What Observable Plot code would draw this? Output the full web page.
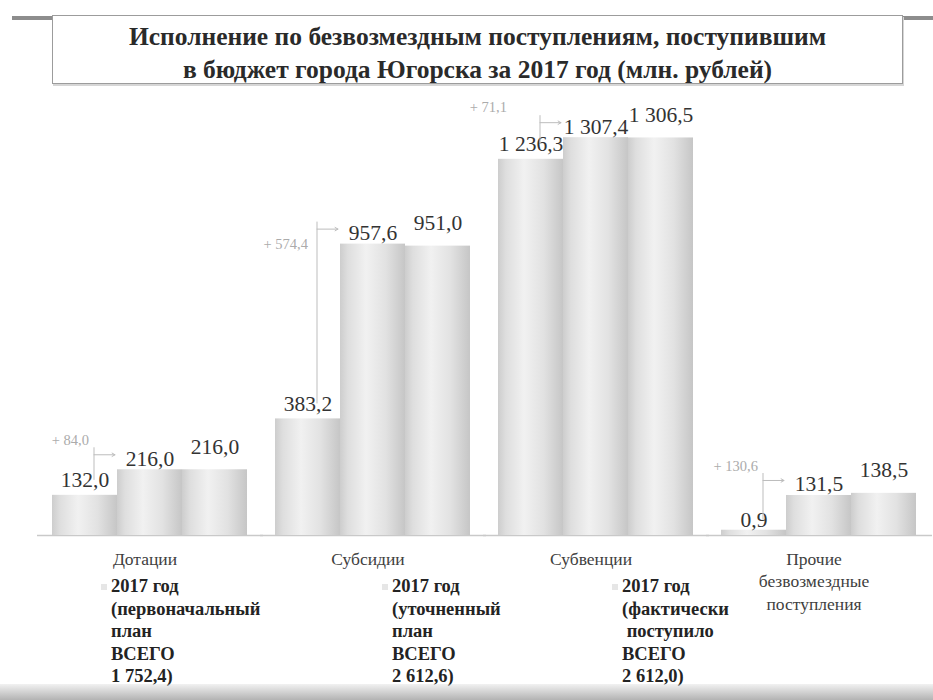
<!DOCTYPE html>
<html>
<head>
<meta charset="utf-8">
<script src="https://cdn.jsdelivr.net/npm/d3@7"></script>
<script src="https://cdn.jsdelivr.net/npm/@observablehq/plot@0.6"></script>
<style>
  html, body { margin: 0; padding: 0; background: #fff; }
  body { width: 933px; height: 700px; position: relative; overflow: hidden; font-family: "Liberation Serif", "Times New Roman", Tinos, "DejaVu Serif", Times, serif; }
  #titlebox { position: absolute; left: 52px; top: 15px; width: 849px; height: 67px; border: 1px solid #9c9c9c; box-shadow: 1px 2px 0 #d6d6d6; text-align: center; }
  #titlebox div { font-weight: bold; font-size: 25.5px; line-height: 33px; color: #2a2a2a; }
  #title1 { margin-top: 4px; }
  .deco { position: absolute; height: 4px; background: #8d8d8d; top: 16px; }
  #chart { position: absolute; left: 0; top: 90px; }
  #chart text { font-family: "Liberation Serif", "Times New Roman", Tinos, "DejaVu Serif", Times, serif; }
  .leg { position: absolute; top: 575px; font-weight: bold; font-size: 18.5px; line-height: 22.6px; color: #232323; white-space: pre; }
  .sw { position: absolute; width: 6px; height: 6px; background: #e6e6e6; left: -10px; top: 9px; }
  #bottomband { position: absolute; left: 0; right: 0; bottom: 0; height: 16px; background: linear-gradient(to bottom, rgba(210,210,210,0.3), #b3b3b3); }
</style>
</head>
<body>
<div class="deco" style="left:12px;width:40px"></div>
<div class="deco" style="left:903px;width:30px"></div>
<div id="titlebox">
  <div id="title1">Исполнение по безвозмездным поступлениям, поступившим</div>
  <div id="title2">в бюджет города Югорска за 2017 год (млн. рублей)</div>
</div>
<div id="chart"></div>
<div id="legend"></div>
<div id="bottomband"></div>
<script>
// ---- data ----
const categories = ["Дотации", "Субсидии", "Субвенции", "Прочие"];
const categoryLabels = ["Дотации", "Субсидии", "Субвенции", "Прочие\nбезвозмездные\nпоступления"];
const seriesKeys = ["initial", "revised", "actual"];
const planInitial = [132.0, 383.2, 1236.3, 0.9];
const planRevised = [216.0, 957.6, 1307.4, 131.5];
const actualReceived = [216.0, 951.0, 1306.5, 138.5];
const legendLabels = [
  "2017 год\n(первоначальный\nплан\nВСЕГО\n1 752,4)",
  "2017 год\n(уточненный\nплан\nВСЕГО\n2 612,6)",
  "2017 год\n(фактически\n поступило\nВСЕГО\n2 612,0)"
];

// ---- build table ----
const seriesValues = [planInitial, planRevised, actualReceived];
const rows = [];
categories.forEach((c, i) => seriesKeys.forEach((s, j) => rows.push({cat: c, series: s, value: seriesValues[j][i]})));
const ru = d3.formatLocale({decimal: ",", thousands: " ", grouping: [3], currency: ["", ""]});
const fmt = ru.format(",.1f");
const anno = categories.map((c, i) => ({cat: c, v1: planInitial[i], v2: planRevised[i], label: "+ " + fmt(planRevised[i] - planInitial[i])}));
const catRows = categories.map((c, i) => ({cat: c, label: categoryLabels[i]}));

const FONT = "Liberation Serif, Times New Roman, Tinos, DejaVu Serif, serif";
const labelStyle = {fill: "#333", fontSize: 21.5, fontFamily: FONT};
const valueText = (key, dy) => Plot.text(rows.filter(d => d.series === key), {
  fx: "cat", x: "series", y: "value", text: d => fmt(d.value), dy, ...labelStyle
});
const annoStyle = {fx: "cat", x: () => "initial", y: "v2", text: "label", textAnchor: "end", fill: "#ababab", fontSize: 14.5, fontFamily: FONT};

const plot = Plot.plot({
  width: 933,
  height: 540,
  marginLeft: 50,
  marginRight: 15,
  marginTop: 19,
  marginBottom: 95,
  fx: {domain: categories, paddingInner: 0.117, paddingOuter: 0, axis: null},
  x: {domain: seriesKeys, padding: 0, axis: null},
  y: {domain: [0, 1400], axis: null},
  marks: [
    Plot.ruleY([0], {stroke: "#c9c9c9", strokeWidth: 1.5, insetLeft: -14, insetRight: -15}),
    Plot.barY(rows, {fx: "cat", x: "series", y: "value", fill: "url(#barGrad)", inset: 0}),
    // very small values are drawn with a visible minimum height, as in the original
    Plot.barY(rows.filter(d => d.value < 5), {fx: "cat", x: "series", y: "value", fill: "url(#barGrad)", inset: 0, insetTop: -5}),
    valueText("initial", -15),
    valueText("revised", -11),
    valueText("actual", -23),
    Plot.ruleX(anno, {fx: "cat", x: () => "initial", y1: "v1", y2: "v2", dx: 9, insetBottom: 22, insetTop: -15, stroke: "#bdbdbd", strokeWidth: 1}),
    Plot.arrow(anno, {fx: "cat", x1: () => "initial", x2: () => "revised", y1: "v2", y2: "v2", dx: 9, dy: -15, insetEnd: 44, bend: 0, headLength: 5, stroke: "#bdbdbd", strokeWidth: 1}),
    Plot.text(anno.filter(d => d.cat === "Дотации" || d.cat === "Прочие"), {...annoStyle, dy: -29, dx: 4}),
    Plot.text(anno.filter(d => d.cat === "Субвенции"), {...annoStyle, dy: -30, dx: -24}),
    Plot.text(anno.filter(d => d.cat === "Субсидии"), {...annoStyle, dy: 0, dx: 0}),
    Plot.text(catRows, {fx: "cat", text: "label", frameAnchor: "bottom", lineAnchor: "top", dy: 13, dx: -5, lineHeight: 1.3, fill: "#404040", fontSize: 17.5, fontFamily: FONT})
  ]
});

const defs = d3.select(plot).insert("defs", ":first-child");
const g = defs.append("linearGradient").attr("id", "barGrad").attr("x1", "0").attr("x2", "1").attr("y1", "0").attr("y2", "0");
[[0, "#cdcdcd"], [0.12, "#dedede"], [0.4, "#f1f1f1"], [0.7, "#e2e2e2"], [1, "#c6c6c6"]].forEach(([o, c]) => g.append("stop").attr("offset", o).attr("stop-color", c));
document.getElementById("chart").appendChild(plot);

// legend
const legendLeft = [111, 392, 622];
const legend = document.getElementById("legend");
legendLabels.forEach((t, i) => {
  const d = document.createElement("div");
  d.className = "leg";
  d.style.left = legendLeft[i] + "px";
  d.textContent = t;
  const sw = document.createElement("span");
  sw.className = "sw";
  d.appendChild(sw);
  legend.appendChild(d);
});
</script>
</body>
</html>
